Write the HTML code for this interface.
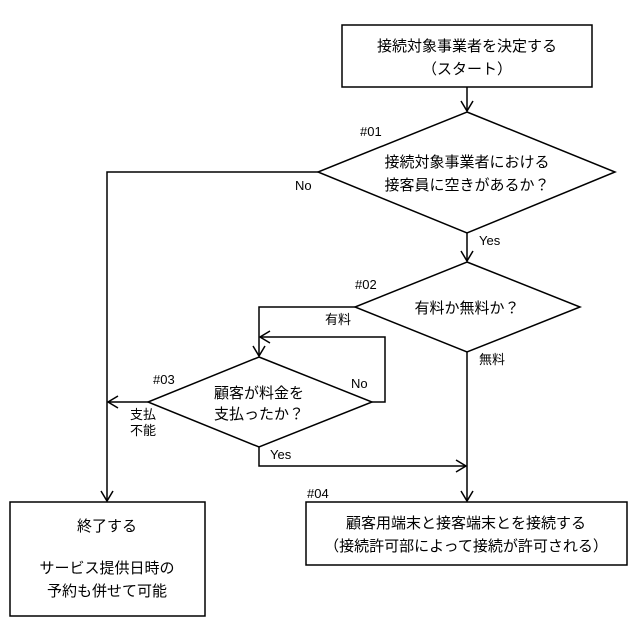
<!DOCTYPE html>
<html><head><meta charset="utf-8"><style>
html,body{margin:0;padding:0;background:#fff}
svg{display:block}
text{font-family:"Liberation Sans","Noto Sans CJK JP",sans-serif;fill:#000}
</style></head><body>
<svg width="640" height="640" viewBox="0 0 640 640" xmlns="http://www.w3.org/2000/svg">
<g fill="none" stroke="#000" stroke-width="1.5">
<rect x="342" y="25" width="250" height="62"/>
<rect x="10" y="502" width="195" height="114"/>
<rect x="306" y="502" width="321" height="63"/>
<polygon points="467,112 615,172 467,233 318,172"/>
<polygon points="467,262 580,307 467,352 355,307"/>
<polygon points="259,357 372,402 259,447 148,402"/>
<polyline points="467,87 467,111"/>
<polyline points="461,101 467,111 473,101"/>
<polyline points="467,233 467,261"/>
<polyline points="461,251 467,261 473,251"/>
<polyline points="318,172 107,172 107,501"/>
<polyline points="101,491 107,501 113,491"/>
<polyline points="467,352 467,501"/>
<polyline points="461,491 467,501 473,491"/>
<polyline points="355,307 259,307 259,356"/>
<polyline points="253,346 259,356 265,346"/>
<polyline points="372,402 385,402 385,337 260,337"/>
<polyline points="270,331 260,337 270,343"/>
<polyline points="148,402 108,402"/>
<polyline points="118,396 108,402 118,408"/>
<polyline points="259,447 259,466 466,466"/>
<polyline points="456,460 466,466 456,472"/>
</g>
<g font-size="15" text-anchor="middle">
<text x="467" y="51">接続対象事業者を決定する</text>
<text x="467" y="74">（スタート）</text>
<text x="467" y="167">接続対象事業者における</text>
<text x="467" y="190">接客員に空きがあるか？</text>
<text x="467" y="313">有料か無料か？</text>
<text x="259" y="398">顧客が料金を</text>
<text x="259" y="419">支払ったか？</text>
<text x="107" y="531">終了する</text>
<text x="107" y="573">サービス提供日時の</text>
<text x="107" y="596">予約も併せて可能</text>
<text x="466" y="528">顧客用端末と接客端末とを接続する</text>
<text x="466" y="551">（接続許可部によって接続が許可される）</text>
</g>
<g font-size="13">
<text x="360" y="136">#01</text>
<text x="355" y="289">#02</text>
<text x="153" y="384">#03</text>
<text x="307" y="498">#04</text>
<text x="295" y="190">No</text>
<text x="479" y="245">Yes</text>
<text x="325" y="324">有料</text>
<text x="479" y="364">無料</text>
<text x="351" y="388">No</text>
<text x="130" y="419">支払</text>
<text x="130" y="435">不能</text>
<text x="270" y="459">Yes</text>
</g>
</svg>
</body></html>
